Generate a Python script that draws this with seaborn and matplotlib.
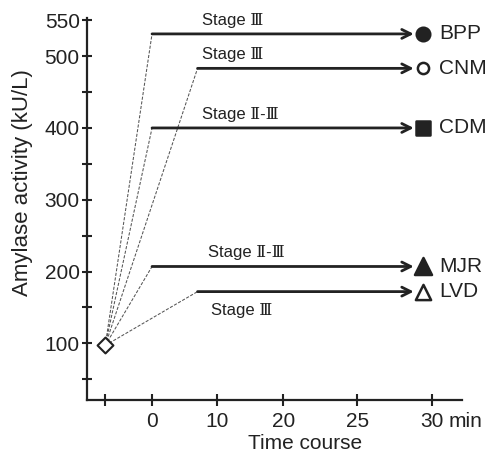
import numpy as np
import pandas as pd
import matplotlib
matplotlib.use("Agg")
import matplotlib.pyplot as plt
import seaborn as sns

# samples, plateau level reached and the time the plateau starts
samples = ["BPP", "CNM", "CDM", "MJR", "LVD"]
levels = [531, 483, 400, 207, 172]
start_times = [0, 7, 0, 0, 7]
end_time = 28.8
marker_time = 29.4
stages = ["Stage Ⅲ", "Stage Ⅲ", "Stage Ⅱ-Ⅲ", "Stage Ⅱ-Ⅲ", "Stage Ⅲ"]
stage_times = [7.7, 7.7, 7.7, 8.6, 9.0]
markers = ["o", "o", "s", "^", "^"]
filled = [True, False, True, True, False]

# starting point (before the time course)
base_time = -7
base_level = 97

# time axis of the original is not linear, ticks are spaced by hand
tick_times = [-7, 0, 10, 20, 25, 30]
tick_pos = [0, 0.72, 1.72, 2.74, 3.88, 5.02]
tick_labels = ["", "0", "10", "20", "25", "30"]

y_major = [100, 200, 300, 400, 500, 550]
y_minor = [50, 150, 250, 350, 450]


def to_pos(t):
    return np.interp(t, tick_times, tick_pos)


sns.set_style("ticks")
plt.rcParams["font.family"] = ["Liberation Sans", "DejaVu Serif"]
ink = "#222222"

fig = plt.figure(figsize=(4.89, 4.53), dpi=100)
ax = fig.add_axes([0.178, 0.117, 0.767, 0.843])

# dashed rise from the starting point to each plateau
rows = []
for s, lv, t0 in zip(samples, levels, start_times):
    rows.append({"sample": s, "pos": to_pos(base_time), "level": base_level})
    rows.append({"sample": s, "pos": to_pos(t0), "level": lv})
rise = pd.DataFrame(rows)
sns.lineplot(data=rise, x="pos", y="level", units="sample", estimator=None,
             sort=False, color="#555555", lw=0.75, linestyle=(0, (3, 1.5)), ax=ax)

# plateau arrows
for lv, t0 in zip(levels, start_times):
    ax.annotate("", xy=(to_pos(end_time), lv), xytext=(to_pos(t0), lv),
                arrowprops=dict(arrowstyle="->", lw=2, color=ink,
                                mutation_scale=16, shrinkA=0, shrinkB=0))

# end markers and names
for s, lv, m, f in zip(samples, levels, markers, filled):
    if m == "^":
        size = 150 if f else 120
    else:
        size = 95 if f else 65
    sns.scatterplot(x=[to_pos(marker_time)], y=[lv], marker=m, s=size,
                    color=ink if f else "white", edgecolor=ink,
                    linewidth=1.8, zorder=5, ax=ax)
    ax.annotate(s, xy=(to_pos(marker_time), lv), xytext=(12, 0),
                textcoords="offset points", va="center", ha="left",
                fontsize=15, color=ink)

# stage labels
for i, (st, lv) in enumerate(zip(stages, levels)):
    dy = -13.5 if i == len(stages) - 1 else 10
    ax.annotate(st, xy=(to_pos(stage_times[i]), lv), xytext=(0, dy),
                textcoords="offset points", va="center", ha="left",
                fontsize=12, color=ink)

# starting point
sns.scatterplot(x=[to_pos(base_time)], y=[base_level], marker="D", s=65,
                color="white", edgecolor=ink, linewidth=1.5, zorder=6, ax=ax)

ax.set_xlim(-0.28, 5.49)
ax.set_ylim(21, 553)
ax.set_xticks(tick_pos)
ax.set_xticklabels(tick_labels)
ax.set_yticks(y_major)
ax.set_yticks(y_minor, minor=True)
ax.tick_params(axis="x", direction="inout", length=8, width=1.5, color=ink,
               labelsize=15, labelcolor=ink, pad=4.8)
ax.tick_params(axis="y", which="both", direction="inout", length=7.5,
               width=1.5, color=ink, labelsize=15, labelcolor=ink, pad=1.5)
ax.annotate("min", xy=(tick_pos[-1], 0), xycoords=("data", "axes fraction"),
            xytext=(12.5, -8.8), textcoords="offset points", va="top",
            ha="left", fontsize=15, color=ink)

sns.despine(ax=ax)
for sp in ["left", "bottom"]:
    ax.spines[sp].set_linewidth(1.6)
    ax.spines[sp].set_color(ink)

ax.set_xlabel("Time course", fontsize=15, color=ink)
ax.set_ylabel("Amylase activity (kU/L)", fontsize=16, color=ink)
ax.xaxis.set_label_coords(0.58, -0.088)
ax.yaxis.set_label_coords(-0.145, 0.57)
if ax.get_legend():
    ax.get_legend().remove()

fig.savefig("out.png", dpi=100)
